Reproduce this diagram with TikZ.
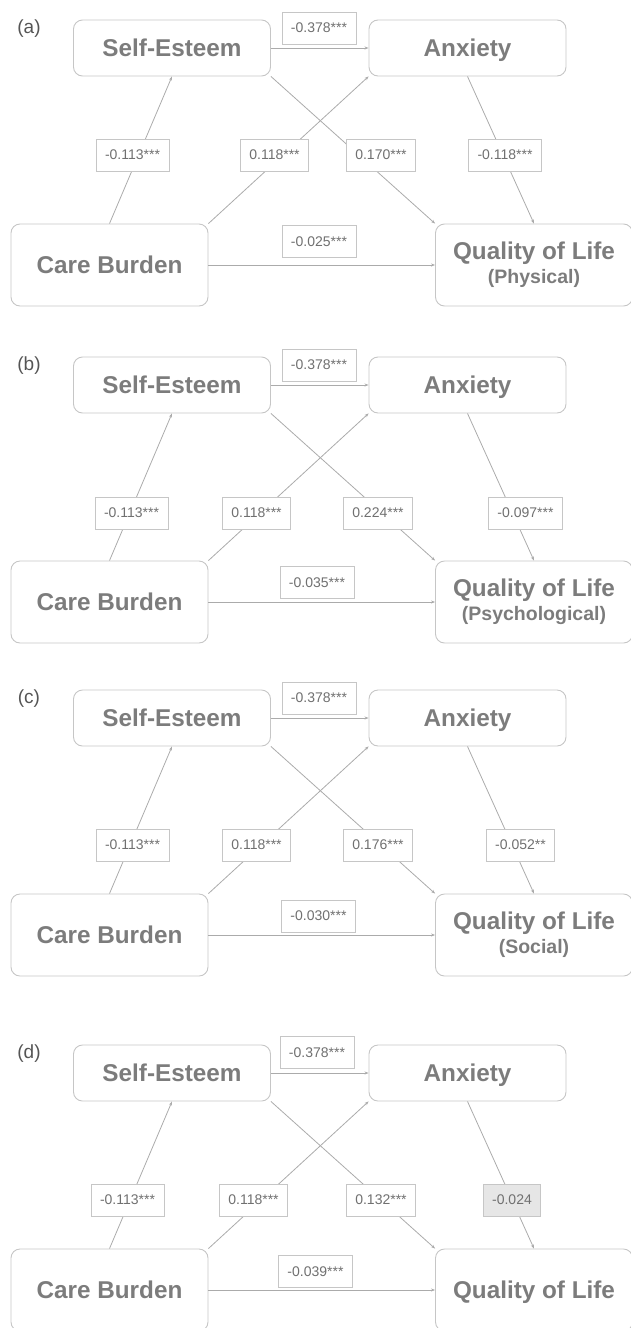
\documentclass[tikz,border=0pt]{standalone}
\usepackage{fontspec}
\setmainfont{Liberation Sans}
\usetikzlibrary{arrows.meta}

\definecolor{boxline}{HTML}{C6C6C6}
\definecolor{linegray}{HTML}{ABABAB}
\definecolor{titletext}{HTML}{7C7C7C}
\definecolor{coeftext}{HTML}{707070}
\definecolor{tagtext}{HTML}{555555}
\definecolor{shade}{HTML}{E6E6E6}

\begin{document}
\begin{tikzpicture}[x=1pt,y=-1pt,>={Stealth[length=4pt,width=3pt]}]

	\tikzstyle{var}=[draw=boxline,line width=0.9pt,rounded corners=9pt,text=titletext,font=\bfseries\fontsize{24.3}{27}\selectfont,minimum width=197pt,minimum height=56pt,inner sep=0pt,align=center,text height=17.5pt,text depth=0.5pt]
	\tikzstyle{big}=[minimum height=82pt]
	\tikzstyle{twoline}=[text height=,text depth=]
	\tikzstyle{coef}=[draw=boxline,line width=0.8pt,fill=white,text=coeftext,font=\fontsize{14}{16}\selectfont,minimum height=32pt,inner xsep=9pt]
	\tikzstyle{link}=[->,draw=linegray,line width=0.8pt]
	\tikzstyle{tag}=[text=tagtext,font=\fontsize{19}{21}\selectfont]

	\useasboundingbox (0,0) rectangle (630,1328);

	% panel (a)
	\begin{scope}[shift={(0,20)}]
	\node[tag] (taga) at (29,9) {(a)};
	\node[var] (sea) at (172,28) {Self-Esteem};
	\node[var] (anxa) at (467.5,28) {Anxiety};
	\node[var,big] (cba) at (109.5,245) {Care Burden};
	\node[var,big,twoline] (qola) at (534,245) {Quality of Life\\[-3pt]{\fontsize{19.5}{22}\selectfont(Physical)}};
	\draw[link] (sea.east) -- (anxa.west);
	\draw[link] (cba.north) -- (sea.south);
	\draw[link] (cba.north east) -- (anxa.south west);
	\draw[link] (sea.south east) -- (qola.north west);
	\draw[link] (anxa.south) -- (qola.north);
	\draw[link] (cba.east) -- (qola.west);
	\node[coef] (sa-a) at (319,8) {-0.378***};
	\node[coef] (cs-a) at (132.5,135) {-0.113***};
	\node[coef] (ca-a) at (274.5,135) {0.118***};
	\node[coef] (sq-a) at (381,135) {0.170***};
	\node[coef] (aq-a) at (505,135) {-0.118***};
	\node[coef] (cq-a) at (319,221.5) {-0.025***};
	\end{scope}

	% panel (b)
	\begin{scope}[shift={(0,357)}]
	\node[tag] (tagb) at (29,9) {(b)};
	\node[var] (seb) at (172,28) {Self-Esteem};
	\node[var] (anxb) at (467.5,28) {Anxiety};
	\node[var,big] (cbb) at (109.5,245) {Care Burden};
	\node[var,big,twoline] (qolb) at (534,245) {Quality of Life\\[-3pt]{\fontsize{19.5}{22}\selectfont(Psychological)}};
	\draw[link] (seb.east) -- (anxb.west);
	\draw[link] (cbb.north) -- (seb.south);
	\draw[link] (cbb.north east) -- (anxb.south west);
	\draw[link] (seb.south east) -- (qolb.north west);
	\draw[link] (anxb.south) -- (qolb.north);
	\draw[link] (cbb.east) -- (qolb.west);
	\node[coef] (sa-b) at (319,8) {-0.378***};
	\node[coef] (cs-b) at (131.5,156) {-0.113***};
	\node[coef] (ca-b) at (256.5,156) {0.118***};
	\node[coef] (sq-b) at (378,156) {0.224***};
	\node[coef] (aq-b) at (525.5,156) {-0.097***};
	\node[coef] (cq-b) at (317,225.5) {-0.035***};
	\end{scope}

	% panel (c)
	\begin{scope}[shift={(0,690)}]
	\node[tag] (tagc) at (29,9) {(c)};
	\node[var] (sec) at (172,28) {Self-Esteem};
	\node[var] (anxc) at (467.5,28) {Anxiety};
	\node[var,big] (cbc) at (109.5,245) {Care Burden};
	\node[var,big,twoline] (qolc) at (534,245) {Quality of Life\\[-3pt]{\fontsize{19.5}{22}\selectfont(Social)}};
	\draw[link] (sec.east) -- (anxc.west);
	\draw[link] (cbc.north) -- (sec.south);
	\draw[link] (cbc.north east) -- (anxc.south west);
	\draw[link] (sec.south east) -- (qolc.north west);
	\draw[link] (anxc.south) -- (qolc.north);
	\draw[link] (cbc.east) -- (qolc.west);
	\node[coef] (sa-c) at (319,8) {-0.378***};
	\node[coef] (cs-c) at (132.5,155) {-0.113***};
	\node[coef] (ca-c) at (256.5,155) {0.118***};
	\node[coef] (sq-c) at (378,155) {0.176***};
	\node[coef] (aq-c) at (520.5,155) {-0.052**};
	\node[coef] (cq-c) at (318.5,226) {-0.030***};
	\end{scope}

	% panel (d)
	\begin{scope}[shift={(0,1045)}]
	\node[tag] (tagd) at (29,9) {(d)};
	\node[var] (sed) at (172,28) {Self-Esteem};
	\node[var] (anxd) at (467.5,28) {Anxiety};
	\node[var,big] (cbd) at (109.5,245) {Care Burden};
	\node[var,big] (qold) at (534,245) {Quality of Life};
	\draw[link] (sed.east) -- (anxd.west);
	\draw[link] (cbd.north) -- (sed.south);
	\draw[link] (cbd.north east) -- (anxd.south west);
	\draw[link] (sed.south east) -- (qold.north west);
	\draw[link] (anxd.south) -- (qold.north);
	\draw[link] (cbd.east) -- (qold.west);
	\node[coef] (sa-d) at (317,7.5) {-0.378***};
	\node[coef] (cs-d) at (127.5,155) {-0.113***};
	\node[coef] (ca-d) at (253.5,155) {0.118***};
	\node[coef] (sq-d) at (381,155) {0.132***};
	\node[coef,fill=shade] (aq-d) at (512,155) {-0.024};
	\node[coef] (cq-d) at (315.5,226.5) {-0.039***};
	\end{scope}
\end{tikzpicture}
\end{document}
